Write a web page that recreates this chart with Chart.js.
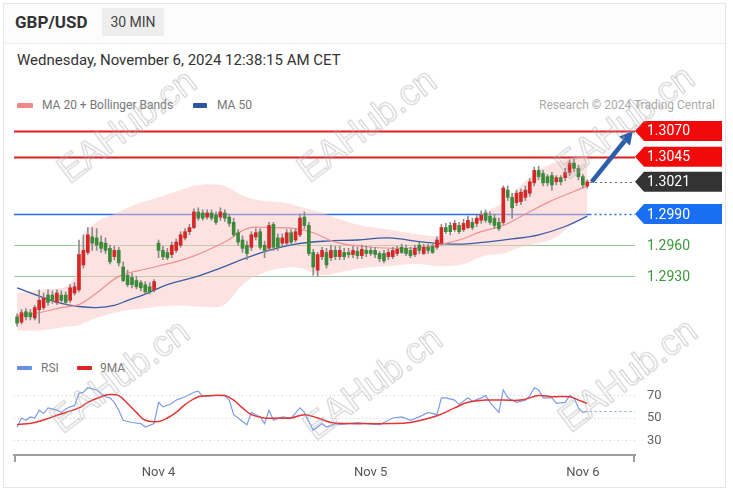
<!DOCTYPE html>
<html>
<head>
<meta charset="utf-8">
<script src="https://cdn.jsdelivr.net/npm/chart.js@4.4.1/dist/chart.umd.min.js"></script>
<style>
  body { margin:0; background:#fff; font-family: Roboto, "Liberation Sans", Arial, sans-serif; }
  .abs { position:absolute; white-space:nowrap; }
  #card { left:3px; top:3px; width:723px; height:485px; border:1px solid #e6e6e6; box-sizing:border-box; }
  #head { left:4px; top:4px; width:721px; height:39px; border-bottom:1px solid #efefef; background:#fcfcfc; }
  .sym { left:15px; top:12px; line-height:20px; font-size:17px; font-weight:bold; color:#333; }
  .tf { left:102px; top:8px; width:62px; height:28px; line-height:28px; text-align:center; background:#eee; font-size:14px; color:#444; }
  .date { left:17px; top:51px; line-height:18px; font-size:15px; color:#333; }
  .leg { font-size:12px; color:#777; line-height:14px; }
  .sw { height:5px; border-radius:1px; }
  .wm { font-family:"Liberation Sans", Arial, sans-serif; font-size:36px; color:transparent;
        -webkit-text-stroke:1px rgba(170,170,170,0.6); transform:translate(-50%,-50%) rotate(-37deg); pointer-events:none; }
  canvas { position:absolute; left:0; }
</style>
</head>
<body>
<div id="card" class="abs"></div>
<div id="head" class="abs"></div>
<div class="abs sym">GBP/USD</div>
<div class="abs tf">30 MIN</div>
<div class="abs date">Wednesday, November 6, 2024 12:38:15 AM CET</div>

<div class="abs sw" style="left:17px;top:103px;width:16px;background:#f08a8a"></div>
<div class="abs leg" style="left:42px;top:98px">MA 20 + Bollinger Bands</div>
<div class="abs sw" style="left:193px;top:103px;width:14px;background:#2d55a0"></div>
<div class="abs leg" style="left:217px;top:98px">MA 50</div>
<div class="abs leg" style="right:18px;top:98px;color:#aaa">Research © 2024 Trading Central</div>

<canvas id="main" width="733" height="240" style="top:110px"></canvas>

<div class="abs sw" style="left:17px;top:366px;width:15px;height:4px;background:#6a8fe6"></div>
<div class="abs leg" style="left:41px;top:361px">RSI</div>
<div class="abs sw" style="left:77px;top:366px;width:15px;height:4px;background:#e02424"></div>
<div class="abs leg" style="left:100px;top:361px">9MA</div>

<canvas id="rsi" width="733" height="119" style="top:371px"></canvas>

<div class="abs wm" style="left:127px;top:126px">EAHub.cn</div>
<div class="abs wm" style="left:367px;top:125px">EAHub.cn</div>
<div class="abs wm" style="left:625px;top:122px">EAHub.cn</div>
<div class="abs wm" style="left:120px;top:376px">EAHub.cn</div>
<div class="abs wm" style="left:373px;top:383px">EAHub.cn</div>
<div class="abs wm" style="left:628px;top:375px">EAHub.cn</div>

<script>
// 30 min candles, index 0..129
const opens = [
  1.2891, 1.2886, 1.2896, 1.2895, 1.2890, 1.2898, 1.2900, 1.2912, 1.2912, 1.2905,
  1.2912, 1.2912, 1.2907, 1.2914, 1.2917, 1.2941, 1.2953, 1.2968, 1.2967, 1.2963,
  1.2962, 1.2957, 1.2949, 1.2955, 1.2939, 1.2931, 1.2929, 1.2926, 1.2924, 1.2922,
  1.2920, 1.2917, 1.2962, 1.2955, 1.2953, 1.2951, 1.2955, 1.2960, 1.2967, 1.2973,
  1.2977, 1.2992, 1.2991, 1.2987, 1.2991, 1.2989, 1.2987, 1.2991, 1.2987, 1.2982,
  1.2972, 1.2965, 1.2960, 1.2958, 1.2968, 1.2973, 1.2960, 1.2957, 1.2980, 1.2967,
  1.2962, 1.2962, 1.2972, 1.2965, 1.2970, 1.2987, 1.2979, 1.2953, 1.2936, 1.2949,
  1.2953, 1.2948, 1.2955, 1.2949, 1.2953, 1.2953, 1.2951, 1.2954, 1.2950, 1.2955,
  1.2955, 1.2955, 1.2952, 1.2952, 1.2949, 1.2949, 1.2952, 1.2958, 1.2957, 1.2955,
  1.2951, 1.2960, 1.2952, 1.2958, 1.2959, 1.2958, 1.2962, 1.2977, 1.2979, 1.2975,
  1.2979, 1.2975, 1.2977, 1.2982, 1.2981, 1.2984, 1.2991, 1.2988, 1.2986, 1.2982,
  1.2982, 1.3013, 1.3006, 1.3001, 1.3002, 1.3006, 1.3010, 1.3020, 1.3032, 1.3029,
  1.3026, 1.3027, 1.3021, 1.3025, 1.3025, 1.3030, 1.3039, 1.3034, 1.3026, 1.3017
];
const closes = [
  1.2885, 1.2895, 1.2891, 1.2891, 1.2900, 1.2907, 1.2909, 1.2905, 1.2907, 1.2914,
  1.2907, 1.2905, 1.2919, 1.2920, 1.2951, 1.2955, 1.2970, 1.2962, 1.2960, 1.2957,
  1.2955, 1.2944, 1.2955, 1.2943, 1.2926, 1.2922, 1.2922, 1.2920, 1.2919, 1.2915,
  1.2915, 1.2925, 1.2955, 1.2949, 1.2948, 1.2960, 1.2963, 1.2970, 1.2973, 1.2977,
  1.2992, 1.2986, 1.2986, 1.2991, 1.2986, 1.2982, 1.2992, 1.2986, 1.2981, 1.2970,
  1.2963, 1.2957, 1.2952, 1.2970, 1.2972, 1.2958, 1.2955, 1.2979, 1.2958, 1.2958,
  1.2967, 1.2972, 1.2963, 1.2973, 1.2986, 1.2979, 1.2952, 1.2939, 1.2951, 1.2955,
  1.2941, 1.2955, 1.2949, 1.2955, 1.2949, 1.2951, 1.2955, 1.2950, 1.2956, 1.2952,
  1.2952, 1.2951, 1.2947, 1.2945, 1.2953, 1.2955, 1.2956, 1.2953, 1.2952, 1.2950,
  1.2957, 1.2955, 1.2958, 1.2955, 1.2953, 1.2965, 1.2977, 1.2973, 1.2973, 1.2981,
  1.2973, 1.2981, 1.2984, 1.2977, 1.2986, 1.2989, 1.2984, 1.2982, 1.2979, 1.2976,
  1.3015, 1.3006, 1.2996, 1.3010, 1.3011, 1.3013, 1.3021, 1.3032, 1.3026, 1.3020,
  1.3020, 1.3018, 1.3025, 1.3021, 1.3030, 1.3039, 1.3034, 1.3026, 1.3018, 1.3021
];
const highs = [
  1.2894, 1.2898, 1.2899, 1.2898, 1.2902, 1.2917, 1.2914, 1.2917, 1.2916, 1.2917,
  1.2916, 1.2915, 1.2922, 1.2924, 1.2965, 1.2970, 1.2977, 1.2977, 1.2976, 1.2969,
  1.2967, 1.2960, 1.2959, 1.2958, 1.2944, 1.2936, 1.2933, 1.2930, 1.2926, 1.2925,
  1.2924, 1.2927, 1.2965, 1.2959, 1.2957, 1.2963, 1.2966, 1.2973, 1.2976, 1.2980,
  1.2995, 1.2996, 1.2994, 1.2994, 1.2994, 1.2992, 1.2996, 1.2994, 1.2990, 1.2986,
  1.2975, 1.2969, 1.2964, 1.2973, 1.2976, 1.2976, 1.2964, 1.2982, 1.2982, 1.2971,
  1.2971, 1.2975, 1.2975, 1.2976, 1.2990, 1.2992, 1.2982, 1.2956, 1.2953, 1.2958,
  1.2957, 1.2960, 1.2959, 1.2959, 1.2957, 1.2957, 1.2959, 1.2958, 1.2960, 1.2959,
  1.2958, 1.2958, 1.2954, 1.2955, 1.2956, 1.2958, 1.2959, 1.2961, 1.2960, 1.2958,
  1.2960, 1.2963, 1.2961, 1.2961, 1.2962, 1.2968, 1.2980, 1.2981, 1.2982, 1.2984,
  1.2982, 1.2985, 1.2988, 1.2986, 1.2990, 1.2993, 1.2994, 1.2992, 1.2990, 1.2986,
  1.3017, 1.3017, 1.3010, 1.3013, 1.3014, 1.3017, 1.3024, 1.3035, 1.3036, 1.3032,
  1.3028, 1.3030, 1.3027, 1.3027, 1.3034, 1.3042, 1.3043, 1.3037, 1.3028, 1.3023
];
const lows = [
  1.2882, 1.2884, 1.2888, 1.2888, 1.2888, 1.2885, 1.2898, 1.2902, 1.2904, 1.2903,
  1.2905, 1.2903, 1.2905, 1.2912, 1.2915, 1.2938, 1.2951, 1.2955, 1.2955, 1.2953,
  1.2952, 1.2942, 1.2946, 1.2940, 1.2925, 1.2920, 1.2919, 1.2918, 1.2916, 1.2913,
  1.2913, 1.2915, 1.2948, 1.2946, 1.2946, 1.2948, 1.2953, 1.2958, 1.2965, 1.2970,
  1.2976, 1.2984, 1.2984, 1.2985, 1.2984, 1.2980, 1.2984, 1.2983, 1.2978, 1.2968,
  1.2960, 1.2953, 1.2946, 1.2955, 1.2965, 1.2956, 1.2948, 1.2955, 1.2955, 1.2955,
  1.2959, 1.2960, 1.2961, 1.2963, 1.2968, 1.2976, 1.2950, 1.2931, 1.2930, 1.2946,
  1.2938, 1.2945, 1.2946, 1.2946, 1.2946, 1.2948, 1.2948, 1.2947, 1.2947, 1.2949,
  1.2950, 1.2948, 1.2944, 1.2943, 1.2946, 1.2947, 1.2950, 1.2952, 1.2950, 1.2948,
  1.2949, 1.2952, 1.2951, 1.2952, 1.2952, 1.2956, 1.2960, 1.2971, 1.2970, 1.2973,
  1.2971, 1.2973, 1.2976, 1.2975, 1.2978, 1.2981, 1.2982, 1.2980, 1.2976, 1.2974,
  1.2980, 1.3003, 1.2986, 1.2998, 1.2999, 1.3003, 1.3007, 1.3017, 1.3023, 1.3017,
  1.3017, 1.3013, 1.3018, 1.3018, 1.3022, 1.3027, 1.3031, 1.3023, 1.3015, 1.3015
];

// indicator lines, read at sample candles
const ma20Idx  = [0, 5, 10, 14, 18, 23, 27, 32, 39, 47, 52, 57, 63, 67, 72, 78, 85, 92, 100, 105, 110, 115, 120, 125, 129];
const ma20Vals = [1.2892, 1.2895, 1.2900, 1.2903, 1.2914, 1.2930, 1.2935, 1.2940, 1.2948, 1.2963, 1.2976, 1.2977, 1.2976,
                  1.2972, 1.2963, 1.2959, 1.2957, 1.2958, 1.2965, 1.2973, 1.2979, 1.2990, 1.3001, 1.3010, 1.3017];
const ma50Idx  = [0, 5, 10, 14, 18, 22, 25, 29, 34, 40, 46, 52, 57, 63, 70, 77, 84, 92, 100, 106, 112, 118, 124, 129];
const ma50Vals = [1.2919, 1.2911, 1.2904, 1.2901, 1.2900, 1.2902, 1.2907, 1.2913, 1.2922, 1.2929, 1.2938, 1.2948,
                  1.2955, 1.2961, 1.2964, 1.2965, 1.2967, 1.2963, 1.2961, 1.2963, 1.2966, 1.2970, 1.2978, 1.2988];
const bbIdx   = [0, 5, 12, 14, 15, 18, 23, 28, 32, 37, 41, 46, 48, 51, 55, 60, 64, 69, 73, 78, 84, 90, 96, 101, 106, 110, 114, 118, 122, 126, 129];
const bbUpper = [1.2914, 1.2917, 1.2923, 1.2951, 1.2970, 1.2982, 1.2992, 1.3001, 1.3006, 1.3013, 1.3018, 1.3018, 1.3015,
                 1.3008, 1.3003, 1.3001, 1.2997, 1.2991, 1.2985, 1.2979, 1.2975, 1.2971, 1.2969, 1.2977, 1.2992, 1.3001,
                 1.3018, 1.3032, 1.3040, 1.3044, 1.3045];
const bbLower = [1.2878, 1.2878, 1.2882, 1.2883, 1.2885, 1.2890, 1.2896, 1.2899, 1.2901, 1.2902, 1.2901, 1.2901, 1.2907,
                 1.2922, 1.2932, 1.2938, 1.2938, 1.2931, 1.2934, 1.2938, 1.2940, 1.2942, 1.2940, 1.2942, 1.2950, 1.2952,
                 1.2958, 1.2962, 1.2968, 1.2982, 1.2989];

const rsiIdx  = [0, 1, 2, 3, 4, 5, 6, 7, 9, 10, 11, 12, 13, 14, 15, 16, 18, 19, 20, 21, 22, 23, 24, 26, 28, 29, 31, 32, 33, 35,
                 36, 38, 40, 41, 42, 44, 45, 47, 48, 49, 50, 52, 53, 55, 56, 57, 58, 60, 62, 64, 65, 67, 69, 70, 72, 73, 75,
                 77, 79, 82, 85, 87, 89, 91, 93, 95, 96, 97, 99, 100, 102, 103, 105, 106, 107, 109, 110, 111, 113, 115, 116,
                 117, 118, 119, 121, 122, 124, 125, 126, 127, 128, 129];
const rsiVals = [42, 50, 48, 51, 50, 57, 54, 59, 57, 55, 58, 60, 61, 72, 73, 77, 75, 72, 69, 68, 64, 57, 48, 46, 45, 42, 45, 64, 60, 63,
                 66, 69, 73, 74, 69, 70, 70, 70, 66, 53, 50, 44, 55, 51, 45, 57, 48, 51, 50, 59, 55, 39, 45, 42, 45, 44, 45,
                 46, 45, 44, 50, 51, 48, 51, 55, 53, 68, 68, 66, 62, 68, 65, 68, 70, 64, 55, 75, 68, 64, 66, 70,
                 77, 75, 68, 68, 63, 64, 70, 68, 59, 55, 56];
const ma9Idx  = [0, 4, 8, 11, 14, 16, 19, 21, 23, 25, 27, 29, 32, 34, 36, 38, 41, 44, 47, 49, 51, 53, 56, 59, 62, 65, 68, 71,
                 75, 79, 84, 89, 95, 99, 102, 106, 110, 114, 118, 121, 125, 127, 129];
const ma9Vals = [44, 46, 51, 55, 59, 64, 69, 71, 70, 63, 55, 48, 47, 50, 55, 62, 69, 70, 70, 66, 59, 53, 50, 50, 50, 53, 50, 46,
                 45, 45, 45, 46, 52, 59, 64, 66, 66, 66, 70, 69, 69, 66, 63];

const levels      = [1.3070, 1.3045, 1.2990, 1.2960, 1.2930];
const levelColors = ['#e31d23', '#d81f22', '#2a6be6', '#97cc97', '#97cc97'];
const lastPrice   = 1.3021;
const arrowFrom   = [130, 1.3021];
const arrowTo     = [139.3, 1.3070];

const xTickIdx    = [32, 80, 128];
const xTickLabels = ['Nov 4', 'Nov 5', 'Nov 6'];
const rsiTicks    = [30, 50, 70];

const xMin = -0.7, xMax = 139.8;
const font = 'Roboto, "Liberation Sans", Arial, sans-serif';
Chart.defaults.font.family = font;

const idx = opens.map((_, i) => i);
const lastIdx = idx.length - 1;
const pts = (xs, ys) => xs.map((x, k) => ({ x: x, y: ys[k] }));

function tag(ctx, x0, x1, y, fill) {
  ctx.beginPath();
  ctx.moveTo(x0, y);
  ctx.lineTo(x0 + 9, y - 10);
  ctx.lineTo(x1, y - 10);
  ctx.lineTo(x1, y + 10);
  ctx.lineTo(x0 + 9, y + 10);
  ctx.closePath();
  ctx.fillStyle = fill;
  ctx.fill();
}

const levelLines = {
  id: 'levelLines',
  beforeDatasetsDraw(chart) {
    const { ctx, chartArea: a, scales: { x, y } } = chart;
    const xl = x.getPixelForValue(lastIdx + 0.5);
    ctx.save();
    levels.forEach((v, k) => {
      const py = Math.round(y.getPixelForValue(v)) + 0.5;
      ctx.strokeStyle = levelColors[k];
      ctx.lineWidth = k < 2 ? 2 : (k == 2 ? 1.5 : 1.2);
      ctx.beginPath();
      ctx.moveTo(a.left, py);
      ctx.lineTo(k == 2 ? xl : a.right, py);
      ctx.stroke();
      if (k == 2) {
        ctx.setLineDash([2, 3]);
        ctx.beginPath();
        ctx.moveTo(xl, py);
        ctx.lineTo(a.right, py);
        ctx.stroke();
        ctx.setLineDash([]);
      }
    });
    ctx.restore();
  },
  afterDraw(chart) {
    const { ctx, chartArea: a, scales: { x, y } } = chart;
    ctx.save();
    // dotted last price
    const pl = Math.round(y.getPixelForValue(lastPrice)) + 0.5;
    ctx.strokeStyle = '#666';
    ctx.lineWidth = 1.2;
    ctx.setLineDash([2, 3]);
    ctx.beginPath();
    ctx.moveTo(x.getPixelForValue(lastIdx + 0.6), pl);
    ctx.lineTo(a.right, pl);
    ctx.stroke();
    ctx.setLineDash([]);

    // tags on the right
    const x1 = chart.width - 11;
    ctx.font = '14px ' + font;
    ctx.textBaseline = 'middle';
    const tags = [[levels[0], '#f00a0a'], [levels[1], '#f00a0a'], [lastPrice, '#333333'], [levels[2], '#1a6ef2']];
    tags.forEach(([v, c]) => {
      const py = y.getPixelForValue(v);
      tag(ctx, a.right, x1, py, c);
      ctx.fillStyle = '#fff';
      ctx.fillText(v.toFixed(4), a.right + 12, py + 1);
    });
    [levels[3], levels[4]].forEach(v => {
      ctx.fillStyle = '#3b9a3b';
      ctx.fillText(v.toFixed(4), a.right + 12, y.getPixelForValue(v) + 1);
    });

    // projection arrow
    const ax0 = x.getPixelForValue(arrowFrom[0]), ay0 = y.getPixelForValue(arrowFrom[1]);
    const ax1 = x.getPixelForValue(arrowTo[0]), ay1 = y.getPixelForValue(arrowTo[1]);
    const ang = Math.atan2(ay1 - ay0, ax1 - ax0);
    const head = 13;
    const bx = ax1 - head * Math.cos(ang), by = ay1 - head * Math.sin(ang);
    ctx.strokeStyle = '#2c5da8';
    ctx.fillStyle = '#2c5da8';
    ctx.lineWidth = 4.5;
    ctx.lineCap = 'butt';
    ctx.beginPath();
    ctx.moveTo(ax0, ay0);
    ctx.lineTo(bx, by);
    ctx.stroke();
    ctx.beginPath();
    ctx.moveTo(ax1, ay1);
    ctx.lineTo(bx + 7 * Math.sin(ang), by - 7 * Math.cos(ang));
    ctx.lineTo(bx - 7 * Math.sin(ang), by + 7 * Math.cos(ang));
    ctx.closePath();
    ctx.fill();
    ctx.restore();
  }
};

new Chart(document.getElementById('main'), {
  type: 'bar',
  data: {
    datasets: [
      {
        type: 'bar', label: 'body',
        data: idx.map(i => ({ x: i, y: [opens[i], closes[i]] })),
        backgroundColor: c => closes[c.dataIndex] >= opens[c.dataIndex] ? '#d62626' : '#3a8a3a',
        barThickness: 3, minBarLength: 1, grouped: false, order: 0
      },
      {
        type: 'bar', label: 'wick',
        data: idx.map(i => ({ x: i, y: [lows[i], highs[i]] })),
        backgroundColor: '#8c8c8c',
        barThickness: 1, grouped: false, order: 1
      },
      { type: 'line', label: 'MA 20', data: pts(ma20Idx, ma20Vals), borderColor: '#f29090', borderWidth: 1.2,
        pointRadius: 0, tension: 0.4, order: 2 },
      { type: 'line', label: 'MA 50', data: pts(ma50Idx, ma50Vals), borderColor: '#3b5ca5', borderWidth: 1.3,
        pointRadius: 0, tension: 0.4, order: 2 },
      { type: 'line', label: 'BB upper', data: pts(bbIdx, bbUpper), borderWidth: 0, borderColor: 'rgba(0,0,0,0)',
        backgroundColor: 'rgba(252,198,198,0.5)', fill: '+1', pointRadius: 0, tension: 0.4, order: 3 },
      { type: 'line', label: 'BB lower', data: pts(bbIdx, bbLower), borderWidth: 0, borderColor: 'rgba(0,0,0,0)',
        fill: false, pointRadius: 0, tension: 0.4, order: 3 }
    ]
  },
  options: {
    responsive: false,
    animation: false,
    layout: { padding: { left: 14, right: 98, top: 8, bottom: 12 } },
    plugins: { legend: { display: false }, tooltip: { enabled: false } },
    scales: {
      x: { type: 'linear', min: xMin, max: xMax, offset: false, display: false },
      y: { min: 1.28707, max: 1.30824, display: false }
    }
  },
  plugins: [levelLines]
});

const rsiExtras = {
  id: 'rsiExtras',
  afterDraw(chart) {
    const { ctx, chartArea: a, scales: { x, y } } = chart;
    ctx.save();
    ctx.strokeStyle = '#9e9e9e';
    ctx.lineWidth = 2;
    ctx.beginPath();
    ctx.moveTo(a.left + 1, a.bottom);
    ctx.lineTo(a.left + 1, a.bottom + 7);
    ctx.moveTo(a.right - 1, a.bottom);
    ctx.lineTo(a.right - 1, a.bottom + 7);
    ctx.stroke();
    const py = Math.round(y.getPixelForValue(rsiVals[rsiVals.length - 1])) + 0.5;
    ctx.strokeStyle = '#7f9fe6';
    ctx.lineWidth = 1.2;
    ctx.setLineDash([2, 3]);
    ctx.beginPath();
    ctx.moveTo(x.getPixelForValue(rsiIdx[rsiIdx.length - 1] + 0.5), py);
    ctx.lineTo(a.right, py);
    ctx.stroke();
    ctx.restore();
  }
};

new Chart(document.getElementById('rsi'), {
  type: 'line',
  data: {
    datasets: [
      { label: '9MA', data: pts(ma9Idx, ma9Vals), borderColor: '#e53434', borderWidth: 1.5, pointRadius: 0, tension: 0.4, order: 0 },
      { label: 'RSI', data: pts(rsiIdx, rsiVals), borderColor: '#7e9de6', borderWidth: 1.2, pointRadius: 0, tension: 0, order: 1 }
    ]
  },
  options: {
    responsive: false,
    animation: false,
    layout: { padding: { left: 14, right: 0, top: 6, bottom: 0 } },
    plugins: { legend: { display: false }, tooltip: { enabled: false } },
    scales: {
      x: {
        type: 'linear', min: xMin, max: xMax, offset: false,
        afterFit: s => { s.height = 35; },
        afterBuildTicks: s => { s.ticks = xTickIdx.map(v => ({ value: v })); },
        grid: { display: false, drawTicks: false },
        border: { display: true, color: '#9e9e9e', width: 2 },
        ticks: { autoSkip: false, maxRotation: 0, padding: 10, color: '#555', font: { size: 13 },
                 callback: v => xTickLabels[xTickIdx.indexOf(v)] || '' }
      },
      y: {
        position: 'right', min: 17, max: 85,
        afterFit: s => { s.width = 98; },
        afterBuildTicks: s => { s.ticks = rsiTicks.map(v => ({ value: v })); },
        grid: { color: '#cdcdcd', drawTicks: true, tickLength: 12, tickColor: 'rgba(0,0,0,0)', lineWidth: 1 },
        border: { display: false, dash: [1, 3] },
        ticks: { padding: 0, color: '#666', font: { size: 13 } }
      }
    }
  },
  plugins: [rsiExtras]
});
</script>
</body>
</html>
